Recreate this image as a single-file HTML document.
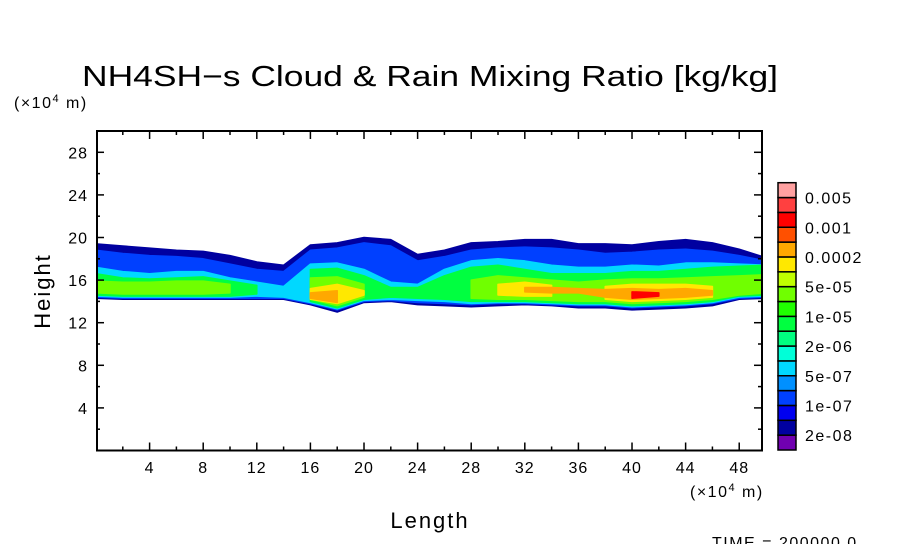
<!DOCTYPE html>
<html><head><meta charset="utf-8"><style>
body{margin:0;background:#fff;width:904px;height:544px;overflow:hidden}
text{font-family:"Liberation Sans",sans-serif;fill:#000}
</style></head><body>
<svg id="c" width="904" height="544" xmlns="http://www.w3.org/2000/svg">
<text x="82" y="86" font-size="29" textLength="696" lengthAdjust="spacingAndGlyphs">NH4SH−s Cloud &amp; Rain Mixing Ratio [kg/kg]</text>
<text x="14" y="108" font-size="16" letter-spacing="1.5">(×10<tspan font-size="11" dy="-6">4</tspan><tspan dy="6"> m)</tspan></text>
<text x="690" y="497" font-size="16" letter-spacing="1.5">(×10<tspan font-size="11" dy="-6">4</tspan><tspan dy="6"> m)</tspan></text>
<text transform="translate(50,291) rotate(-90)" font-size="22" text-anchor="middle" letter-spacing="2">Height</text>
<text x="430" y="528" font-size="22" text-anchor="middle" letter-spacing="2">Length</text>
<text x="712" y="548" font-size="16" letter-spacing="1.5">TIME = 200000.0</text>
<g id="field"></g><g id="axes"></g><g id="cbar"></g>
</svg>
<script>
const xs=[0,2,4,6,8,10,12,14,16,18,20,22,24,26,28,30,32,34,36,38,40,42,44,46,48,50];
const N=null;
const envTop=[19.4,19.2,19,18.8,18.7,18.3,17.7,17.4,19.3,19.5,20,19.8,18.4,18.8,19.5,19.6,19.8,19.8,19.4,19.4,19.3,19.6,19.8,19.5,18.9,18.1];
const envBot=[14.3,14.2,14.2,14.2,14.2,14.2,14.2,14.2,13.7,13,13.9,14,13.7,13.6,13.5,13.6,13.7,13.6,13.4,13.4,13.2,13.3,13.4,13.6,14.2,14.3];
const blueTop=[18.8,18.5,18.3,18.2,18,17.5,17,16.8,18.8,19,19.5,19.2,17.8,18.2,18.8,19,19.1,19,18.8,18.5,18.6,18.8,18.9,18.7,18.3,17.8];
const blueBot=[14.4,14.3,14.3,14.3,14.3,14.3,14.3,14.3,13.8,13.2,14,14.1,13.9,13.8,13.7,13.8,13.8,13.7,13.6,13.6,13.4,13.5,13.6,13.8,14.3,14.4];
const cyanTop=[17.2,16.8,16.6,16.8,16.8,16.2,15.8,15.4,17.5,17.6,17,15.8,15.6,17,17.8,18,17.8,17.4,17.2,17.2,17.4,17.3,17.6,17.6,17.5,17.4];
const cyanBot=[14.5,14.4,14.4,14.4,14.4,14.4,14.5,14.4,13.9,13.3,14.1,14.2,14.1,14,13.8,13.9,13.9,13.8,13.7,13.7,13.5,13.6,13.7,13.9,14.4,14.5];
const greenTop=[16.6,16.2,16.1,16.2,16.3,15.9,15.5,N,17,17.1,16.4,15.3,15.3,16.4,17.2,17.4,17,16.6,16.6,16.6,16.8,16.8,17,17.2,17.3,17.4];
const greenBot=[14.6,14.5,14.5,14.5,14.5,14.5,14.7,N,14,13.4,14.2,14.4,14.3,14.2,14,14,14,13.9,13.8,13.8,13.6,13.7,13.8,14,14.5,14.6];
const ygTop=[15.9,15.8,15.8,15.9,15.9,15.6,N,N,16.2,16.3,15.6,N,N,N,16,16.4,16.2,16,15.8,16,16.1,16.1,16.2,16.3,16.4,16.5];
const ygBot=[14.8,14.7,14.7,14.7,14.7,14.8,N,N,14.2,13.6,14.4,N,N,N,14.3,14.2,14.2,14.1,14,14,13.8,13.9,14,14.2,14.6,14.8];
const yelTop=[N,N,N,N,N,N,N,N,15.2,15.6,15,N,N,N,N,15.6,15.8,15.5,N,15.4,15.6,15.6,15.6,15.4,N,N];
const yelBot=[N,N,N,N,N,N,N,N,14.2,13.8,14.6,N,N,N,N,14.6,14.5,14.5,N,14.2,14,14.1,14.2,14.4,N,N];
const orTop=[N,N,N,N,N,N,N,N,14.8,15,N,N,N,N,N,N,15.3,15.3,15.2,15.1,15.2,15.1,15.2,15,N,N];
const orBot=[N,N,N,N,N,N,N,N,14.3,13.9,N,N,N,N,N,N,14.9,14.8,14.8,14.4,14.2,14.3,14.4,14.6,N,N];
const redTop=[N,N,N,N,N,N,N,N,N,N,N,N,N,N,N,N,N,N,N,N,14.9,14.8,N,N,N,N];
const redBot=[N,N,N,N,N,N,N,N,N,N,N,N,N,N,N,N,N,N,N,N,14.3,14.5,N,N,N,N];
const layers=[[envTop,envBot,1],[blueTop,blueBot,3],[cyanTop,cyanBot,5],[greenTop,greenBot,8],[ygTop,ygBot,10],[yelTop,yelBot,12],[orTop,orBot,13],[redTop,redBot,15]];
const cbColors=["#7000b0","#0000a0","#0000f0","#0040ff","#0090ff","#00d8ff","#00ffd8","#00ff80","#00ff40","#20ff00","#70ff00","#c0ff00","#ffe800","#ffa800","#ff5000","#ff0000","#ff4040","#ffa0a0"];
const cbLabels=["2e-08","1e-07","5e-07","2e-06","1e-05","5e-05","0.0002","0.001","0.005"];
const yTicks=[4,8,12,16,20,24,28];
const xTicks=[4,8,12,16,20,24,28,32,36,40,44,48];
const X0=96,X1=762,Y0=450.5,Y1=131,XMAX=49.7,YMAX=30;
const sx=v=>X0+(X1-X0)*v/XMAX, sy=v=>Y0-(Y0-Y1)*v/YMAX;
const NS="http://www.w3.org/2000/svg";
function mk(t,a,p){const e=document.createElementNS(NS,t);for(const k in a)e.setAttribute(k,a[k]);p.appendChild(e);return e;}
const field=document.getElementById('field');
const cp=mk('clipPath',{id:'cp'},field);
mk('rect',{x:X0,y:Y1,width:X1-X0,height:Y0-Y1},cp);
const fg=mk('g',{'clip-path':'url(#cp)'},field);
layers.forEach(([t,b,ci])=>{
  let seg=[];
  const flush=()=>{ if(seg.length>0){
    let pts=seg.map(i=>sx(xs[i])+','+sy(t[i])).concat(seg.slice().reverse().map(i=>sx(xs[i])+','+sy(b[i])));
    if(seg.length===1){const i=seg[0];pts=[(sx(xs[i])-8)+','+sy(t[i]),(sx(xs[i])+8)+','+sy(t[i]),(sx(xs[i])+8)+','+sy(b[i]),(sx(xs[i])-8)+','+sy(b[i])];}
    const p=mk('polygon',{points:pts.join(' '),fill:cbColors[ci],stroke:cbColors[ci],'stroke-width':1.5,'stroke-linejoin':'round'},fg);
    
    
  } seg=[]; };
  xs.forEach((x,i)=>{ if(t[i]===null) flush(); else seg.push(i); }); flush();
});
const ax=document.getElementById('axes');
const fr=mk('rect',{x:X0+1,y:Y1,width:X1-X0-1,height:Y0-Y1,fill:'none',stroke:'#000','stroke-width':2},ax);

for(let v=2;v<YMAX;v+=2){const L=v%4===0?8:4;
  mk('line',{x1:X0,x2:X0+L,y1:sy(v),y2:sy(v),stroke:'#000','stroke-width':1.5},ax);
  mk('line',{x1:X1,x2:X1-L,y1:sy(v),y2:sy(v),stroke:'#000','stroke-width':1.5},ax);}
for(let v=2;v<XMAX;v+=2){const L=v%4===0?8:4;
  mk('line',{x1:sx(v),x2:sx(v),y1:Y0,y2:Y0-L,stroke:'#000','stroke-width':1.5},ax);
  mk('line',{x1:sx(v),x2:sx(v),y1:Y1,y2:Y1+L,stroke:'#000','stroke-width':1.5},ax);}
yTicks.forEach(v=>{const t=mk('text',{x:88,y:sy(v)+6,'font-size':16,'text-anchor':'end','letter-spacing':1},ax);t.textContent=v;
  });
xTicks.forEach(v=>{const t=mk('text',{x:sx(v),y:473,'font-size':16,'text-anchor':'middle','letter-spacing':1},ax);t.textContent=v;
  });
const cb=document.getElementById('cbar');
const CB0=450,CBH=14.85;
cbColors.forEach((c,i)=>{const r=mk('rect',{x:778,y:CB0-(i+1)*CBH,width:18,height:CBH,fill:c,stroke:'#000','stroke-width':1.5},cb);
  });
cbLabels.forEach((l,i)=>{const t=mk('text',{x:805,y:CB0-(2*i+1)*CBH+6,'font-size':16,'letter-spacing':1.5},cb);t.textContent=l;
  });
</script>
</body></html>
